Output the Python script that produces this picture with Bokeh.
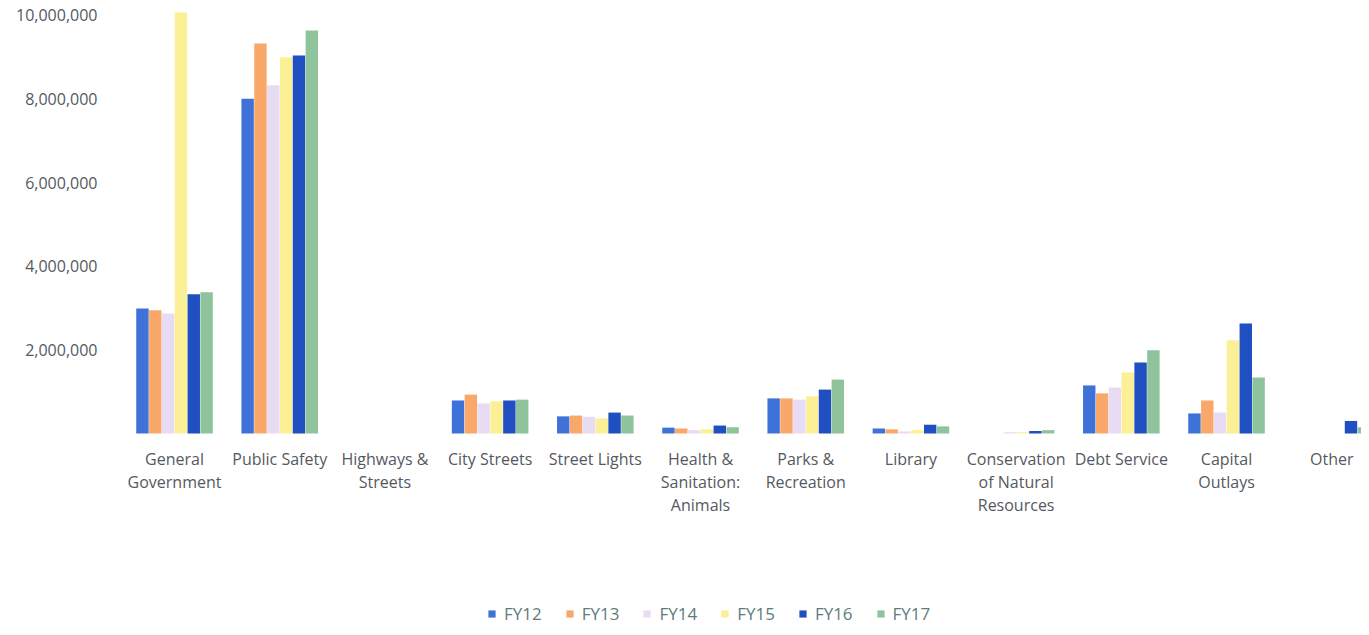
from bokeh.plotting import figure
from bokeh.models import (ColumnDataSource, Range1d, FixedTicker, NumeralTickFormatter,
                          Legend, LegendItem)
from bokeh.transform import dodge
from bokeh.embed import file_html
from bokeh.resources import INLINE

categories = ["General\nGovernment", "Public Safety", "Highways &\nStreets", "City Streets",
              "Street Lights", "Health &\nSanitation:\nAnimals", "Parks &\nRecreation", "Library",
              "Conservation\nof Natural\nResources", "Debt Service", "Capital\nOutlays", "Other"]

fy12 = [2990000, 8010000, 0, 790000, 410000, 140000, 840000, 120000, 0, 1150000, 480000, 0]
fy13 = [2950000, 9330000, 0, 930000, 430000, 120000, 840000, 100000, 0, 960000, 790000, 0]
fy14 = [2870000, 8330000, 0, 720000, 400000, 80000, 810000, 50000, 30000, 1100000, 500000, 0]
fy15 = [10070000, 9000000, 0, 770000, 360000, 100000, 890000, 80000, 30000, 1460000, 2230000, 0]
fy16 = [3330000, 9040000, 0, 790000, 500000, 190000, 1050000, 210000, 60000, 1700000, 2630000, 300000]
fy17 = [3380000, 9640000, 0, 810000, 430000, 150000, 1290000, 170000, 80000, 1990000, 1340000, 150000]

series_names = ["FY12", "FY13", "FY14", "FY15", "FY16", "FY17"]
colors = ["#3f72d8", "#f9a86a", "#e7dcf3", "#fcf096", "#1f4fc0", "#8fc39b"]
y_ticks = [2000000, 4000000, 6000000, 8000000, 10000000]

idx = list(range(len(categories)))
source = ColumnDataSource(dict(x=idx, FY12=fy12, FY13=fy13, FY14=fy14, FY15=fy15, FY16=fy16, FY17=fy17))

p = figure(width=1361, height=627, output_backend="svg", toolbar_location=None,
           x_range=Range1d(-0.504, 11.283), y_range=Range1d(-4641000, 10167000),
           min_border_left=121, min_border_right=0, min_border_top=8, min_border_bottom=0)
p.outline_line_color = None
p.xgrid.visible = False
p.ygrid.visible = False
p.background_fill_color = "white"
p.border_fill_color = "white"

step = 0.122
bw = 0.118
renderers = []
for i, (name, col) in enumerate(zip(series_names, colors)):
    off = (i - 2.5) * step
    r = p.vbar(x=dodge("x", off), top=name, bottom=0, width=bw, source=source,
               fill_color=col, line_color=None)
    renderers.append(r)

# y axis
yax = p.yaxis[0]
yax.ticker = FixedTicker(ticks=y_ticks)
yax.formatter = NumeralTickFormatter(format="0,0")
yax.axis_line_color = None
yax.major_tick_line_color = None
yax.minor_tick_line_color = None
yax.major_label_standoff = 18
yax.major_label_text_font = "Open Sans"
yax.major_label_text_font_size = "16px"
yax.major_label_text_color = "#55595f"

# x axis at zero
xax = p.xaxis[0]
xax.fixed_location = 0
xax.ticker = FixedTicker(ticks=idx)
xax.major_label_overrides = {i: c for i, c in enumerate(categories)}
xax.axis_line_color = None
xax.major_tick_line_color = None
xax.minor_tick_line_color = None
xax.major_label_standoff = 9
xax.major_label_text_font = "Open Sans"
xax.major_label_text_font_size = "16px"
xax.major_label_text_color = "#55595f"
xax.major_label_text_line_height = 1.04

legend = Legend(items=[LegendItem(label=n, renderers=[r]) for n, r in zip(series_names, renderers)],
                orientation="horizontal", location=(366, 2))
legend.background_fill_alpha = 0
legend.border_line_color = None
legend.padding = 0
legend.margin = 0
legend.spacing = 23
legend.glyph_width = 9
legend.glyph_height = 9
legend.label_standoff = 8
legend.label_text_font = "Open Sans"
legend.label_text_font_size = "17px"
legend.label_text_color = "#5e7c7c"
p.add_layout(legend, "center")

open("out.html", "w").write(file_html(p, INLINE))
